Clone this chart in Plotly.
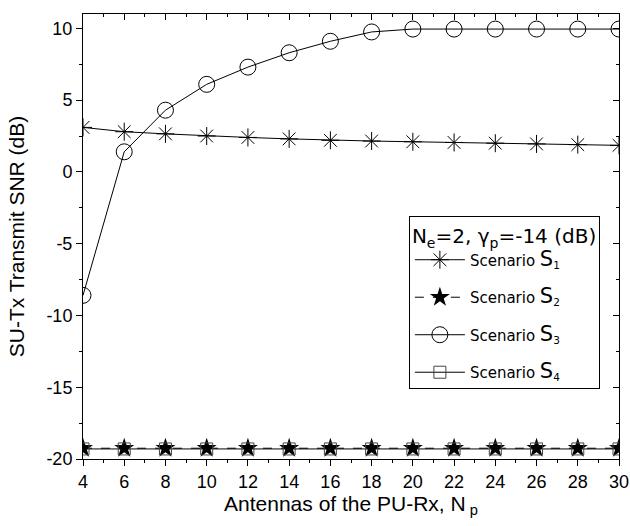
import plotly.graph_objects as go

Np = [4, 6, 8, 10, 12, 14, 16, 18, 20, 22, 24, 26, 28, 30]
S1 = [3.1, 2.8, 2.65, 2.5, 2.4, 2.3, 2.2, 2.15, 2.1, 2.05, 2.0, 1.95, 1.9, 1.85]
S2 = [-19.25] * 14
S3 = [-8.6, 1.4, 4.3, 6.1, 7.3, 8.3, 9.1, 9.75, 9.95, 9.95, 9.95, 9.95, 9.95, 9.95]
S4 = [-19.3] * 14
yticks = [-20, -15, -10, -5, 0, 5, 10]
ytext = ["-20", "-15", "-10", "-5", "0", "5", "10"]
xticks = list(range(4, 31, 2))

BIG = "<span style='font-size:21px'>S</span>"
names = ["Scenario " + BIG + "<sub>%d</sub>" % i for i in range(1, 5)]

fig = go.Figure()
fig.add_trace(go.Scatter(x=Np, y=S4, name=names[3], mode="lines+markers", legendrank=4, legendgroup="g4",
                         xaxis="x2", yaxis="y",
                         line=dict(color="black", width=1),
                         marker=dict(symbol="square-open", size=12, color="#444", line=dict(width=1))))
fig.add_trace(go.Scatter(x=Np, y=S2, name=names[1], mode="lines+markers", legendrank=2, legendgroup="g2",
                         xaxis="x", yaxis="y2",
                         line=dict(color="black", width=1, dash="dash"),
                         marker=dict(symbol="star", size=15, color="black")))
fig.add_trace(go.Scatter(x=Np, y=S3, name=names[2], mode="lines+markers", legendrank=3, legendgroup="g3",
                         line=dict(color="black", width=1),
                         marker=dict(symbol="circle-open", size=16, color="black", line=dict(width=1))))
fig.add_trace(go.Scatter(x=Np, y=S1, name=names[0], mode="lines+markers", legendrank=1, legendgroup="g1",
                         line=dict(color="black", width=1),
                         marker=dict(symbol="asterisk-open", size=15, color="black", line=dict(width=1))))

axfont = dict(family="Arial, Liberation Sans", size=18, color="black")
titlefont = dict(family="Arial, Liberation Sans", size=21, color="black")

fig.update_layout(
    width=630, height=526,
    margin=dict(l=83, r=11, t=14, b=67),
    plot_bgcolor="white", paper_bgcolor="white",
    showlegend=True,
    legend=dict(
        x=0.608, y=0.545, xanchor="left", yanchor="top",
        bordercolor="black", borderwidth=1, bgcolor="white",
        font=dict(family="DejaVu Sans", size=15, color="black"),
        title=dict(text="N<sub>e</sub>=2, γ<sub>p</sub>=-14 (dB)",
                   font=dict(family="DejaVu Sans", size=20, color="black")),
        itemwidth=50, tracegroupgap=15,
    ),
    xaxis=dict(range=[4, 30], tickvals=xticks, ticks="outside", ticklen=6, automargin=False,
               ticklabeloverflow="allow", mirror=True,
               tickwidth=1, tickcolor="black", showline=True, linecolor="black", linewidth=1,
               showgrid=False, zeroline=False, tickfont=axfont,
               minor=dict(dtick=1, ticks="outside", ticklen=3, tickcolor="black", showgrid=False),
               title=dict(text="Antennas of the PU-Rx, N<sub> p</sub>", font=titlefont, standoff=2)),
    yaxis=dict(range=[-20, 11], tickvals=yticks, ticktext=ytext, ticks="outside", ticklen=6, automargin=False,
               mirror=True,
               tickwidth=1, tickcolor="black", showline=True, linecolor="black", linewidth=1,
               showgrid=False, zeroline=False, tickfont=axfont,
               minor=dict(dtick=2.5, ticks="outside", ticklen=3, tickcolor="black", showgrid=False),
               title=dict(text="SU-Tx Transmit SNR (dB)", font=titlefont, standoff=16)),
    xaxis2=dict(range=[4, 30], overlaying="x", side="top", tickvals=xticks, automargin=False,
                ticks="inside", ticklen=6, tickcolor="black", showticklabels=False,
                showline=True, linecolor="black", linewidth=1, showgrid=False, zeroline=False,
                minor=dict(dtick=1, ticks="inside", ticklen=3, tickcolor="black", showgrid=False)),
    yaxis2=dict(range=[-20, 11], overlaying="y", side="right", tickvals=yticks, automargin=False,
                ticks="inside", ticklen=6, tickcolor="black", showticklabels=False,
                showline=True, linecolor="black", linewidth=1, showgrid=False, zeroline=False,
                minor=dict(dtick=2.5, ticks="inside", ticklen=3, tickcolor="black", showgrid=False)),
)

fig.write_html("out.html", config={"displayModeBar": False},
               post_script="document.body.style.margin='0';document.body.style.overflow='hidden';")
